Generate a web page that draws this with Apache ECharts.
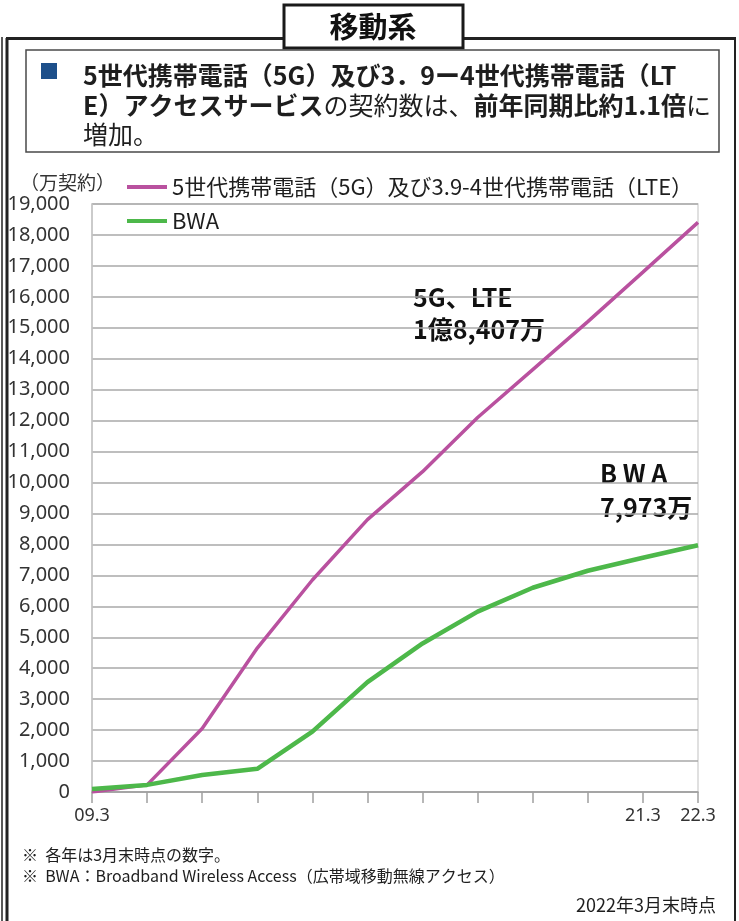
<!DOCTYPE html>
<html><head><meta charset="utf-8">
<script src="https://cdn.jsdelivr.net/npm/echarts@6/dist/echarts.min.js"></script>
<style>html,body{margin:0;padding:0;background:#fff}#c{width:739px;height:921px}</style>
</head><body><div id="c"></div>
<script>
// ---- data ----
const categories = ['09.3','','','','','','','','','','21.3','22.3'];
const lteName = '5世代携帯電話（5G）及び3.9-4世代携帯電話（LTE）';
const bwaName = 'BWA';
const lteValues = [0, 230, 2050, 4650, 6850, 8800, 10350, 12100, 13650, 15200, 16800, 18407];
const bwaValues = [100, 230, 550, 750, 1950, 3550, 4800, 5830, 6600, 7150, 7570, 7973];
const yMin = 0, yMax = 19000, yStep = 1000;
const unitLabel = '（万契約）';

const CJK = '"Noto Sans CJK JP", "Noto Sans", sans-serif';
const TXT = '#1e1e1e';

const chart = echarts.init(document.getElementById('c'));
chart.setOption({
  backgroundColor: '#fff',
  animation: false,
  textStyle: { fontFamily: CJK },
  grid: { left: 92, right: 41, top: 204, bottom: 129, show: true, borderColor: '#d6d6d6', borderWidth: 1.5 },
  legend: {
    orient: 'vertical', left: 122, top: 171, itemWidth: 40, itemHeight: 4, itemGap: 12,
    icon: 'rect',
    textStyle: { fontSize: 22, color: TXT, fontFamily: CJK },
    data: [lteName, bwaName]
  },
  xAxis: {
    type: 'category', boundaryGap: false, data: categories,
    axisLine: { lineStyle: { color: '#a0a0a0', width: 1.5 } },
    axisTick: { show: true, interval: 0, length: 11, lineStyle: { color: '#a0a0a0', width: 1.5 } },
    axisLabel: { interval: 0, fontSize: 18, color: '#333', margin: 15, fontFamily: '"Noto Sans", sans-serif' },
    splitLine: { show: false }
  },
  yAxis: {
    type: 'value', min: yMin, max: yMax, interval: yStep,
    axisLine: { show: true, lineStyle: { color: '#c4c4c4', width: 1.5 } },
    axisTick: { show: false },
    axisLabel: { fontSize: 20, color: '#333', margin: 22, fontFamily: '"Noto Sans", sans-serif',
      formatter: v => v.toLocaleString('en-US') },
    splitLine: { lineStyle: { color: '#a8a8a8', width: 1.5 } }
  },
  series: [
    { name: lteName, type: 'line', data: lteValues, symbol: 'none',
      lineStyle: { color: '#b9519f', width: 3.5 }, itemStyle: { color: '#b9519f' } },
    { name: bwaName, type: 'line', data: bwaValues, symbol: 'none',
      lineStyle: { color: '#4db84a', width: 4.5 }, itemStyle: { color: '#4db84a' } }
  ],
  graphic: [
    // outer frame
    { type: 'line', shape: { x1: 2, y1: 37, x2: 2, y2: 921 }, style: { stroke: '#222', lineWidth: 1.5 } },
    { type: 'line', shape: { x1: 7, y1: 38, x2: 7, y2: 921 }, style: { stroke: '#222', lineWidth: 3 } },
    { type: 'line', shape: { x1: 6, y1: 38.5, x2: 736, y2: 38.5 }, style: { stroke: '#222', lineWidth: 3 } },
    { type: 'line', shape: { x1: 735, y1: 37, x2: 735, y2: 921 }, style: { stroke: '#222', lineWidth: 2 } },
    // title tab
    { type: 'rect', shape: { x: 284, y: 5, width: 179, height: 43 }, style: { fill: '#fff', stroke: '#1a1a1a', lineWidth: 3 } },
    { type: 'text', x: 373, y: 27, style: { text: '移動系', fontSize: 29, fontWeight: 'bold', fill: '#111', fontFamily: CJK, align: 'center', verticalAlign: 'middle' } },
    // heading box
    { type: 'rect', shape: { x: 26, y: 50, width: 693, height: 102 }, style: { fill: 'none', stroke: '#4a4a4a', lineWidth: 1.5 } },
    { type: 'rect', shape: { x: 41, y: 63, width: 16, height: 16 }, style: { fill: '#1d4f8a' } },
    { type: 'text', x: 83, y: 75, style: {
      text: '{b|5世代携帯電話（5G）及び3．9ー4世代携帯電話（LT}',
      rich: { b: { fontSize: 25, fontWeight: 'bold', fill: TXT, fontFamily: CJK } },
      verticalAlign: 'middle' } },
    { type: 'text', x: 83, y: 105, style: {
      text: '{b|E）アクセスサービス}{n|の契約数は、}{b|前年同期比約1.1倍}{n|に}',
      rich: { b: { fontSize: 25, fontWeight: 'bold', fill: TXT, fontFamily: CJK },
              n: { fontSize: 25, fill: TXT, fontFamily: CJK } },
      verticalAlign: 'middle' } },
    { type: 'text', x: 83, y: 134, style: { text: '増加。', fontSize: 25, fill: TXT, fontFamily: CJK, verticalAlign: 'middle' } },
    // unit label
    { type: 'text', x: 20, y: 183, style: { text: unitLabel, fontSize: 19, fill: '#333', fontFamily: CJK, verticalAlign: 'middle' } },
    // annotations
    { type: 'text', x: 413, y: 297, style: { text: '5G、LTE', fontSize: 25, fontWeight: 'bold', fill: '#111', fontFamily: CJK, verticalAlign: 'middle' } },
    { type: 'text', x: 413, y: 329, style: { text: '1億8,407万', fontSize: 25, fontWeight: 'bold', fill: '#111', fontFamily: CJK, verticalAlign: 'middle' } },
    { type: 'text', x: 600, y: 473, style: { text: 'B W A', fontSize: 25, fontWeight: 'bold', fill: '#111', fontFamily: CJK, verticalAlign: 'middle' } },
    { type: 'text', x: 600, y: 507, style: { text: '7,973万', fontSize: 25, fontWeight: 'bold', fill: '#111', fontFamily: CJK, verticalAlign: 'middle' } },
    // footnotes
    { type: 'text', x: 22, y: 855, style: { text: '※  各年は3月末時点の数字。', fontSize: 16, fill: TXT, fontFamily: CJK, verticalAlign: 'middle' } },
    { type: 'text', x: 22, y: 876, style: { text: '※  BWA：Broadband Wireless Access（広帯域移動無線アクセス）', fontSize: 16, fill: TXT, fontFamily: '"Liberation Sans Narrow", "Noto Sans CJK JP", sans-serif', verticalAlign: 'middle' } },
    { type: 'text', x: 716, y: 905, style: { text: '2022年3月末時点', fontSize: 18, fill: TXT, fontFamily: CJK, align: 'right', verticalAlign: 'middle' } }
  ]
});
</script>
</body></html>
